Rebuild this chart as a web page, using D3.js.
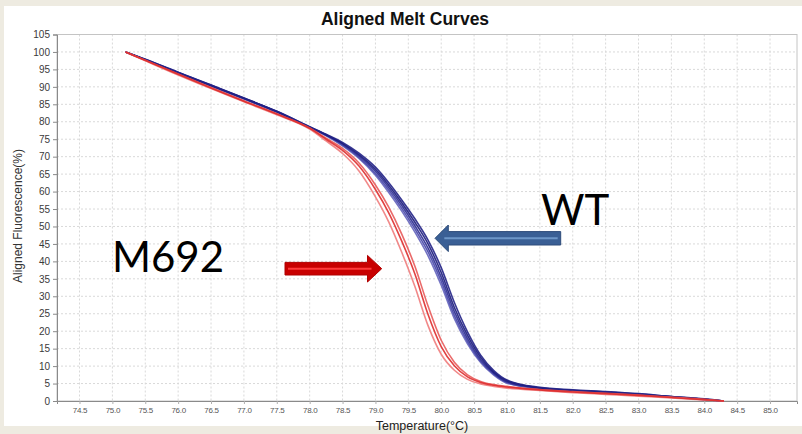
<!DOCTYPE html>
<html>
<head>
<meta charset="utf-8">
<script src="https://cdn.jsdelivr.net/npm/d3@7"></script>
<style>
  html, body { margin: 0; padding: 0; background: #eeebe1; }
  svg { display: block; }
</style>
</head>
<body>
<svg id="chart" width="802" height="434"></svg>
<script>
// ---------------- data ----------------
const chartTitle = "Aligned Melt Curves";
const xAxisTitle = "Temperature(°C)";
const yAxisTitle = "Aligned Fluorescence(%)";

const xTicks = [74.5, 75.0, 75.5, 76.0, 76.5, 77.0, 77.5, 78.0, 78.5, 79.0, 79.5, 80.0, 80.5, 81.0, 81.5, 82.0, 82.5, 83.0, 83.5, 84.0, 84.5, 85.0];
const yTicks = [0, 5, 10, 15, 20, 25, 30, 35, 40, 45, 50, 55, 60, 65, 70, 75, 80, 85, 90, 95, 100, 105];

const temps = [75.2, 75.5, 76.0, 76.5, 77.0, 77.5, 78.0, 78.25, 78.5, 78.75, 79.0, 79.2, 79.4, 79.6, 79.8, 80.0, 80.2, 80.4, 80.6, 80.8, 81.0, 81.5, 82.0, 82.5, 83.0, 83.5, 84.0, 84.3];

// WT replicates (blue)
const wt1 = [100, 97.8, 94.0, 90.4, 86.7, 82.9, 78.4, 76.3, 73.8, 70.6, 66.4, 61.9, 56.8, 51.2, 45.0, 36.8, 26.8, 18.8, 12.5, 8.3, 5.8, 3.8, 3.1, 2.6, 2.0, 1.3, 0.5, 0.0];
const wt2 = [100, 97.9, 94.2, 90.5, 86.8, 83.0, 78.5, 76.2, 73.6, 70.2, 65.8, 61.2, 56.0, 50.2, 43.8, 35.5, 25.6, 17.9, 11.9, 8.0, 5.5, 3.7, 3.0, 2.5, 1.9, 1.2, 0.5, 0.0];
const wt3 = [100, 97.7, 93.9, 90.2, 86.5, 82.7, 78.2, 76.1, 73.3, 69.8, 65.2, 60.5, 55.2, 49.3, 42.7, 34.3, 24.5, 17.1, 11.4, 7.7, 5.3, 3.6, 2.9, 2.4, 1.8, 1.2, 0.4, 0.0];
const wt4 = [100, 97.8, 94.1, 90.3, 86.6, 82.8, 78.3, 76.0, 73.1, 69.5, 64.7, 59.8, 54.4, 48.4, 41.6, 33.2, 23.6, 16.4, 11.0, 7.4, 5.1, 3.5, 2.9, 2.4, 1.8, 1.1, 0.4, 0.0];
const wt5 = [100, 97.9, 94.1, 90.5, 86.8, 83.0, 78.6, 76.4, 74.1, 71.0, 67.0, 62.6, 57.6, 52.2, 46.1, 38.2, 28.2, 19.8, 13.1, 8.7, 6.0, 3.9, 3.2, 2.7, 2.1, 1.3, 0.6, 0.0];

// M692 replicates (red)
const m1 = [100, 97.6, 93.6, 89.7, 85.9, 82.2, 78.1, 75.0, 71.8, 67.3, 60.6, 54.0, 45.8, 36.4, 24.8, 15.6, 10.1, 6.9, 5.3, 4.5, 4.0, 3.2, 2.6, 2.1, 1.6, 1.0, 0.4, 0.0];
const m2 = [100, 97.5, 93.4, 89.5, 85.7, 82.0, 77.9, 74.5, 70.9, 65.9, 58.5, 51.4, 42.6, 32.8, 21.6, 13.4, 8.8, 6.2, 4.9, 4.2, 3.7, 3.0, 2.4, 1.9, 1.4, 0.9, 0.3, 0.0];
const m3 = [100, 97.6, 93.7, 89.8, 86.0, 82.3, 78.2, 75.3, 72.4, 68.2, 61.9, 55.6, 47.8, 38.6, 27.2, 17.4, 11.1, 7.5, 5.6, 4.7, 4.2, 3.3, 2.7, 2.2, 1.7, 1.1, 0.5, 0.0];

const blueSeries = [wt4, wt3, wt2, wt1, wt5];
const blueColors = ["#6464bc", "#4646a8", "#2a2a90", "#1a1a7c", "#222286"];
const redSeries = [m2, m3, m1];
const redColors = ["#f07c7c", "#e85a5a", "#de2e2e"];

const labelWT = "WT";
const labelMut = "M692";

// ---------------- drawing ----------------
const svg = d3.select("#chart");
const W = 802, H = 434;

// white panel
svg.append("rect").attr("x", 4).attr("y", 6).attr("width", W - 4).attr("height", 420)
  .attr("fill", "#ffffff");

const plot = { left: 57, right: 797, top: 34.5, bottom: 401 };

const x = d3.scaleLinear().domain([74.158, 85.41]).range([plot.left, plot.right]);
const y = d3.scaleLinear().domain([0, 105]).range([plot.bottom, plot.top]);

// grid
const grid = svg.append("g");
grid.selectAll("line.vg").data(xTicks).enter().append("line")
  .attr("x1", d => x(d)).attr("x2", d => x(d))
  .attr("y1", plot.top).attr("y2", plot.bottom)
  .attr("stroke", "#d9d9d9").attr("stroke-width", 1).attr("stroke-dasharray", "2,2");
grid.selectAll("line.hg").data(yTicks.filter(d => d > 0 && d < 105)).enter().append("line")
  .attr("x1", plot.left).attr("x2", plot.right)
  .attr("y1", d => y(d)).attr("y2", d => y(d))
  .attr("stroke", "#d9d9d9").attr("stroke-width", 1).attr("stroke-dasharray", "2,2");

// frame
svg.append("rect").attr("x", plot.left).attr("y", plot.top)
  .attr("width", plot.right - plot.left).attr("height", plot.bottom - plot.top)
  .attr("fill", "none").attr("stroke", "#c4c4c4").attr("stroke-width", 1);

// axes
const yAxis = d3.axisLeft(y).tickValues(yTicks).tickSize(4).tickPadding(3).tickFormat(d3.format("d"));
const gy = svg.append("g").attr("transform", `translate(${plot.left},0)`).call(yAxis);
gy.select(".domain").attr("stroke", "#8a8a8a");
gy.selectAll(".tick line").attr("stroke", "#8a8a8a");
gy.selectAll(".tick text").attr("font-family", "Liberation Sans, Arial, sans-serif")
  .attr("font-size", 10).attr("fill", "#3a3a3a");

const xAxis = d3.axisBottom(x).tickValues(xTicks).tickSize(3).tickPadding(3).tickFormat(d3.format(".1f"));
const gx = svg.append("g").attr("transform", `translate(0,${plot.bottom})`).call(xAxis);
gx.select(".domain").attr("stroke", "#8a8a8a");
gx.selectAll(".tick line").attr("stroke", "#b0b0b0");
gx.selectAll(".tick text").attr("font-family", "Liberation Sans, Arial, sans-serif")
  .attr("font-size", 8).attr("fill", "#555").attr("letter-spacing", "-0.3");

// curves
const line = d3.line().x((d, i) => x(temps[i])).y(d => y(d)).curve(d3.curveMonotoneX);
const curves = svg.append("g");
blueSeries.forEach((s, i) => {
  curves.append("path").datum(s).attr("d", line)
    .attr("fill", "none").attr("stroke", blueColors[i]).attr("stroke-width", 1.6)
    .attr("stroke-opacity", 0.9);
});
redSeries.forEach((s, i) => {
  curves.append("path").datum(s).attr("d", line)
    .attr("fill", "none").attr("stroke", redColors[i]).attr("stroke-width", 1.6)
    .attr("stroke-opacity", 0.9);
});

// titles
svg.append("text").attr("x", 405).attr("y", 25).attr("text-anchor", "middle")
  .attr("font-family", "Liberation Sans, Arial, sans-serif").attr("font-weight", "bold")
  .attr("font-size", 17.5).attr("fill", "#111").text(chartTitle);
svg.append("text").attr("x", 422).attr("y", 430).attr("text-anchor", "middle")
  .attr("font-family", "Liberation Sans, Arial, sans-serif")
  .attr("font-size", 12.5).attr("fill", "#222").text(xAxisTitle);
svg.append("text").attr("transform", "translate(22,216) rotate(-90)").attr("text-anchor", "middle")
  .attr("font-family", "Liberation Sans, Arial, sans-serif")
  .attr("font-size", 12).attr("fill", "#333").text(yAxisTitle);

// arrows
function arrow(g, tipX, cy, baseX, tailX, shaftH, headH, dir, fill, stroke, hi) {
  const pts = [
    [tailX, cy - shaftH], [baseX, cy - shaftH], [baseX, cy - headH],
    [tipX, cy], [baseX, cy + headH], [baseX, cy + shaftH], [tailX, cy + shaftH]
  ];
  g.append("polygon").attr("points", pts.map(p => p.join(",")).join(" "))
    .attr("fill", fill).attr("stroke", stroke).attr("stroke-width", 1);
  g.append("line").attr("x1", tailX + (dir > 0 ? 3 : -3)).attr("x2", baseX + (dir > 0 ? 4 : -4))
    .attr("y1", cy).attr("y2", cy).attr("stroke", hi).attr("stroke-width", 2);
}
const ann = svg.append("g");
arrow(ann, 435, 238.3, 448.3, 560.7, 6.7, 13.3, -1, "#3a5f95", "#2e4c7a", "#6d96c8");
arrow(ann, 381.7, 268.7, 367.5, 285, 6.3, 13.3, 1, "#c80000", "#b00000", "#ff3a3a");

ann.append("text").attr("x", 541).attr("y", 225)
  .attr("font-family", "Lato, 'Open Sans', sans-serif").attr("font-size", 42)
  .attr("fill", "#000").text(labelWT);
ann.append("text").attr("x", 112).attr("y", 272)
  .attr("font-family", "Lato, 'Open Sans', sans-serif").attr("font-size", 42)
  .attr("fill", "#000").text(labelMut);
</script>
</body>
</html>
